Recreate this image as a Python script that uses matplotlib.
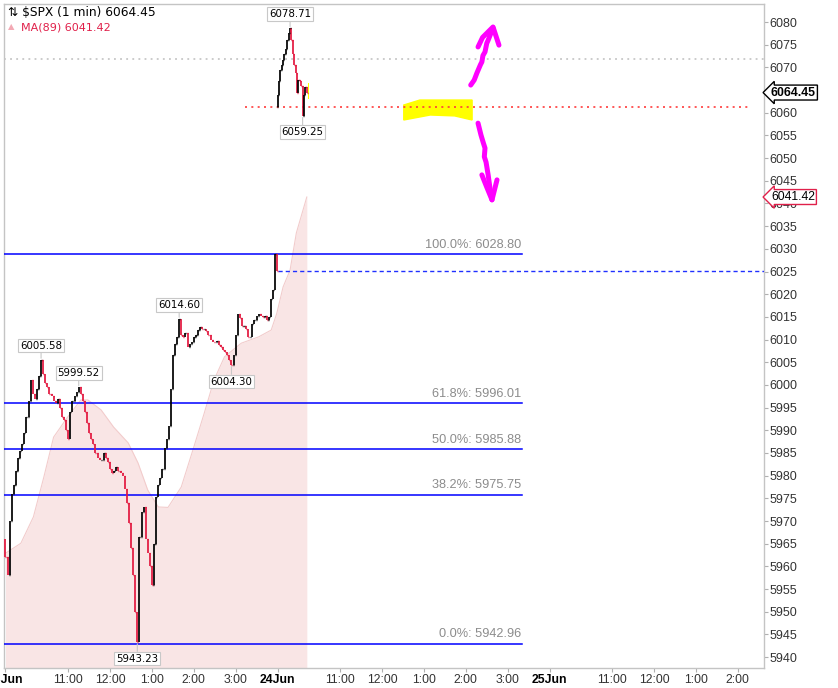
import numpy as np
import matplotlib.pyplot as plt
from matplotlib.collections import LineCollection
from matplotlib.patches import Polygon

# $SPX 1-min chart.
# x axis is "trading minutes" since 23 Jun 9:30 (one session = 390 min)
SESSION = 390

# 23 Jun, closes every 3 minutes (last one at 15:59)
jun23_open = 5966.0
jun23_minute = list(range(0, 390, 3)) + [389]
jun23_close = [
    5962.0, 5958.0, 5970.0, 5976.0, 5978.0, 5981.0, 5984.0, 5985.5, 5987.0, 5989.5,
    5993.0, 5996.5, 6001.0, 5998.0, 5997.0, 5999.0, 6002.0, 6005.58, 6002.5, 6000.5,
    5999.5, 5998.0, 5997.5, 5996.5, 5996.0, 5997.0, 5995.0, 5993.0, 5992.3, 5990.0,
    5988.0, 5994.0, 5996.5, 5997.5, 5998.5, 5999.52, 5998.0, 5996.5, 5994.0, 5991.5,
    5989.5, 5988.0, 5987.0, 5985.0, 5984.0, 5983.5, 5983.5, 5985.0, 5984.0, 5983.0,
    5981.5, 5980.6, 5981.0, 5982.0, 5981.0, 5980.5, 5980.0, 5977.0, 5974.0, 5969.6,
    5964.0, 5958.0, 5950.0, 5943.23, 5966.5, 5972.0, 5973.0, 5966.0, 5963.0, 5960.0,
    5956.0, 5965.0, 5975.3, 5978.0, 5979.5, 5981.5, 5986.0, 5988.0, 5991.0, 5999.0,
    6006.5, 6009.0, 6010.5, 6014.60, 6011.0, 6010.5, 6011.5, 6008.4, 6009.0, 6009.5,
    6010.5, 6011.0, 6012.2, 6012.8, 6012.3, 6012.4, 6011.8, 6011.0, 6010.0, 6009.5,
    6009.4, 6009.6, 6008.8, 6008.3, 6007.8, 6007.2, 6006.6, 6005.5, 6004.30, 6006.5,
    6011.0, 6015.6, 6014.8, 6013.0, 6013.0, 6012.4, 6010.5, 6010.5, 6013.5, 6014.3,
    6015.1, 6015.7, 6015.3, 6015.0, 6015.3, 6014.3, 6015.0, 6018.9, 6021.0, 6028.80,
    6025.20,
]

# 24 Jun, closes every 2 minutes
jun24_open = 6061.2
jun24_minute = list(range(0, 44, 2))
jun24_close = [
    6064.0, 6067.0, 6069.5, 6070.5, 6071.6, 6073.0, 6074.0, 6076.0, 6077.5, 6078.71,
    6076.0, 6073.0, 6070.5, 6068.8, 6064.3, 6067.2, 6067.0, 6066.0, 6059.25, 6064.0,
    6065.7, 6064.45,
]

# MA(89)
ma_minute = [0, 22, 40, 55, 69, 89, 108, 118, 137, 155, 176, 190, 204, 219, 233, 252,
             270, 285, 299, 314, 338, 363, 381, 389, 398, 408, 417, 432]
ma_value = [5962.9, 5965.1, 5970.9, 5979.7, 5988.5, 5992.9, 5996.7, 5996.7, 5994.5,
            5990.7, 5987.2, 5982.8, 5976.8, 5973.1, 5973.0, 5977.5, 5986.3, 5993.8,
            6001.1, 6006.2, 6009.2, 6010.6, 6012.1, 6015.8, 6021.6, 6025.3, 6033.5,
            6041.42]

# fibonacci retracement
fib_pct = [100.0, 61.8, 50.0, 38.2, 0.0]
fib_value = [6028.80, 5996.01, 5985.88, 5975.75, 5942.96]

prev_close = 6025.20
gray_level = 6071.8
last_price = 6064.45
last_ma = 6041.42

# swing labels: (session, minute, price, is_high)
swings = [
    (0, 51, 6005.58, True), (0, 105, 5999.52, True), (0, 189, 5943.23, False),
    (0, 249, 6014.60, True), (0, 324, 6004.30, False),
    (1, 18, 6078.71, True), (1, 36, 6059.25, False),
]

day_labels = ["23Jun", "24Jun", "25Jun"]
hour_labels = ["11:00", "12:00", "1:00", "2:00", "3:00"]
hour_minute = [90, 150, 210, 270, 330]

UP = "black"
DOWN = "#e3173e"
FONT = "Liberation Sans"

fig = plt.figure(figsize=(8.38, 6.88), dpi=100)
ax = fig.add_axes([4 / 838, 20 / 688, 760 / 838, 664 / 688])
x0, x1 = -2.15, 1087.5
ax.set_xlim(x0, x1)
ax.set_ylim(5937.6, 6083.97)


def bars(minutes, closes, first_open, offset):
    segs, cols, ticks, tcols = [], [], [], []
    prev = first_open
    for m, c in zip(minutes, closes):
        x = m + offset
        col = UP if c >= prev else DOWN
        segs.append([(x, prev), (x, c)])
        cols.append(col)
        # open tick to the left, close tick to the right
        ticks.append([(x - 1.0, prev), (x, prev)])
        ticks.append([(x, c), (x + 1.0, c)])
        tcols += [col, col]
        prev = c
    ax.add_collection(LineCollection(segs, colors=cols, linewidths=1.25, zorder=4))
    ax.add_collection(LineCollection(ticks, colors=tcols, linewidths=1.0, zorder=4))


# MA mountain
ax.fill_between(ma_minute, ma_value, 5930, color="#f9e5e5", lw=0, zorder=1)
ax.plot(ma_minute, ma_value, color="#f2cccc", lw=0.8, zorder=1)

# fib lines + labels
for pct, val in zip(fib_pct, fib_value):
    ax.plot([x0, 740], [val, val], color="#0000ff", lw=1.1, zorder=3)
    ax.annotate(f"{pct:.1f}%: {val:.2f}", xy=(739, val), xytext=(0, 2.5),
                textcoords="offset points", ha="right", va="bottom",
                color="#8c8c8c", fontsize=9.2, family=FONT)

ax.plot([SESSION, x1], [prev_close] * 2, color="#2030ff", lw=1.0,
        ls=(0, (3, 2.2)), zorder=3)
ax.plot([343, 1066], [jun24_open] * 2, color="#ff3b3b", lw=1.2,
        ls=(0, (1.2, 2.6)), zorder=3)
ax.plot([x0, x1], [gray_level] * 2, color="#bdbdbd", lw=1.1,
        ls=(0, (1.2, 2.8)), zorder=2)

bars(jun23_minute, jun23_close, jun23_open, 0)
bars(jun24_minute, jun24_close, jun24_open, SESSION)

# little yellow mark at the last bar
ax.add_patch(Polygon([(433, 6063.0), (435.5, 6063.0), (435.5, 6066.5), (433, 6066.5)],
                     closed=True, fc="#ffff00", ec="none", zorder=3))

# swing boxes
for s, m, p, hi in swings:
    ax.annotate(f"{p:.2f}", xy=(s * SESSION + m, p),
                xytext=(0, 6.5 if hi else -8), textcoords="offset points",
                ha="center", va="bottom" if hi else "top", fontsize=7.4,
                family="DejaVu Sans", color="black", zorder=6,
                bbox=dict(boxstyle="square,pad=0.18", fc="white", ec="#c8c8c8", lw=0.8),
                arrowprops=dict(arrowstyle="-", color="#c8c8c8", lw=0.8,
                                shrinkA=0, shrinkB=1))

# hand drawn highlight + arrows
ax.add_patch(Polygon([(571, 6061.7), (594, 6062.8), (669, 6062.8), (669, 6058.4),
                      (644, 6059.3), (609, 6059.5), (571, 6058.4)],
                     closed=True, fc="#ffff00", ec="#ffff00", lw=1, zorder=2))
up_path = [(667, 6066.1), (672, 6067.2), (676, 6068.8), (681, 6070.6), (683, 6071.2),
           (684.5, 6072.6), (687.5, 6073.4), (690, 6075.3), (692, 6076.0), (699, 6078.7)]
up_head = [(677.5, 6074.5), (684, 6076.6), (699, 6078.9), (707.5, 6074.9)]
down_path = [(677.5, 6057.7), (681.7, 6055.1), (685, 6053.4), (687.5, 6052.2),
             (686.5, 6050.3), (689, 6049.1), (692, 6046.3), (694.6, 6043.4),
             (697.5, 6040.8)]
down_head = [(683, 6046.3), (690, 6043.6), (697.5, 6040.8), (704.7, 6045.2)]
for path in (up_path, up_head, down_path, down_head):
    xs, ys = zip(*path)
    ax.plot(xs, ys, color="#ff00ff", lw=3.6, solid_capstyle="round",
            solid_joinstyle="round", zorder=5)

# axes styling
ax.set_facecolor("white")
for sp in ax.spines.values():
    sp.set_color("#c4c4c4")
    sp.set_linewidth(1.0)
ax.yaxis.tick_right()
yt = np.arange(5940, 6081, 5)
ax.set_yticks(yt)
# the 6065 label sits under the last-price tag
ax.set_yticklabels(["" if v == 6065 else f"{v:d}" for v in yt])
ax.tick_params(axis="y", direction="out", length=3, color="#b0b0b0", pad=1,
               labelsize=9, labelcolor="#333333")
xt, xl = [], []
for d, name in enumerate(day_labels):
    xt.append(d * SESSION)
    xl.append(name)
    for hm, hl in zip(hour_minute, hour_labels):
        if d * SESSION + hm < x1:
            xt.append(d * SESSION + hm)
            xl.append(hl)
ax.set_xticks(xt)
ax.set_xticklabels(xl)
ax.tick_params(axis="x", direction="out", length=3, color="#b0b0b0", pad=1,
               labelsize=8.8, labelcolor="#333333")
for lab in ax.get_xticklabels() + ax.get_yticklabels():
    lab.set_family(FONT)
for lab in ax.get_xticklabels():
    if "Jun" in lab.get_text():
        lab.set_fontweight("bold")
        lab.set_color("black")

# right-hand price tags
ax.annotate(f"{last_price:.2f}", xy=(1, last_price), xycoords=("axes fraction", "data"),
            xytext=(5, 0), textcoords="offset points", ha="left", va="center",
            fontsize=8.8, fontweight="bold", family=FONT, color="black",
            bbox=dict(boxstyle="larrow,pad=0.12", fc="white", ec="black", lw=1.0),
            annotation_clip=False, zorder=7)
ax.annotate(f"{last_ma:.2f}", xy=(1, last_ma), xycoords=("axes fraction", "data"),
            xytext=(5, 0), textcoords="offset points", ha="left", va="center",
            fontsize=8.8, family=FONT, color="black",
            bbox=dict(boxstyle="larrow,pad=0.12", fc="white", ec="#e0204a", lw=1.0),
            annotation_clip=False, zorder=7)

# header
fig.text(8 / 838, 1 - 13 / 688, "\u21c5 $SPX (1 min) 6064.45", fontsize=8.8,
         family="DejaVu Sans", va="center", ha="left", color="black")
fig.text(8 / 838, 1 - 27 / 688, "\u25b2", fontsize=6, family="DejaVu Sans",
         va="center", ha="left", color="#f3a9b4")
fig.text(21 / 838, 1 - 27 / 688, "MA(89) 6041.42", fontsize=8.0,
         family="DejaVu Sans", va="center", ha="left", color="#e0204a")

fig.savefig("out.png", dpi=100, facecolor="white")
